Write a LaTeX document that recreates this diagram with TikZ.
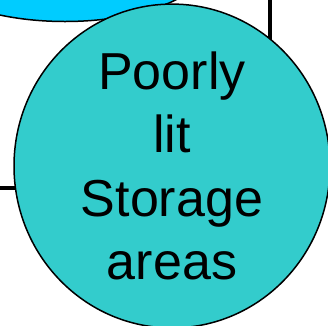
\documentclass[tikz,border=0pt]{standalone}
\usepackage{fontspec}
\setmainfont{Liberation Sans}
\usetikzlibrary{shapes.geometric}
\definecolor{tealfill}{HTML}{33CCCC}
\definecolor{skyfill}{HTML}{00CCFF}
\begin{document}
\begin{tikzpicture}[x=1pt, y=-1pt, line width=1.5pt,
  main node/.style={ellipse, draw, inner sep=0pt, align=center, font=\fontsize{52}{63.6}\selectfont}]
  \useasboundingbox (0, 0) rectangle (328, 325);
  \coordinate (t1) at (270, 0);
  \coordinate (t2) at (270, 80);
  \coordinate (l1) at (0, 188);
  \coordinate (l2) at (40, 188);
  \draw[line width=3.6pt] (t1) -- (t2);
  \draw[line width=3.6pt] (l1) -- (l2);
  \node[main node, fill=skyfill, minimum width=290pt, minimum height=122pt] (a1) at (65, -39.5) {};
  \node[main node, fill=tealfill, minimum width=316pt, minimum height=322pt] (b1) at (172, 166) {Poorly\\lit\\Storage\\areas};
\end{tikzpicture}
\end{document}
